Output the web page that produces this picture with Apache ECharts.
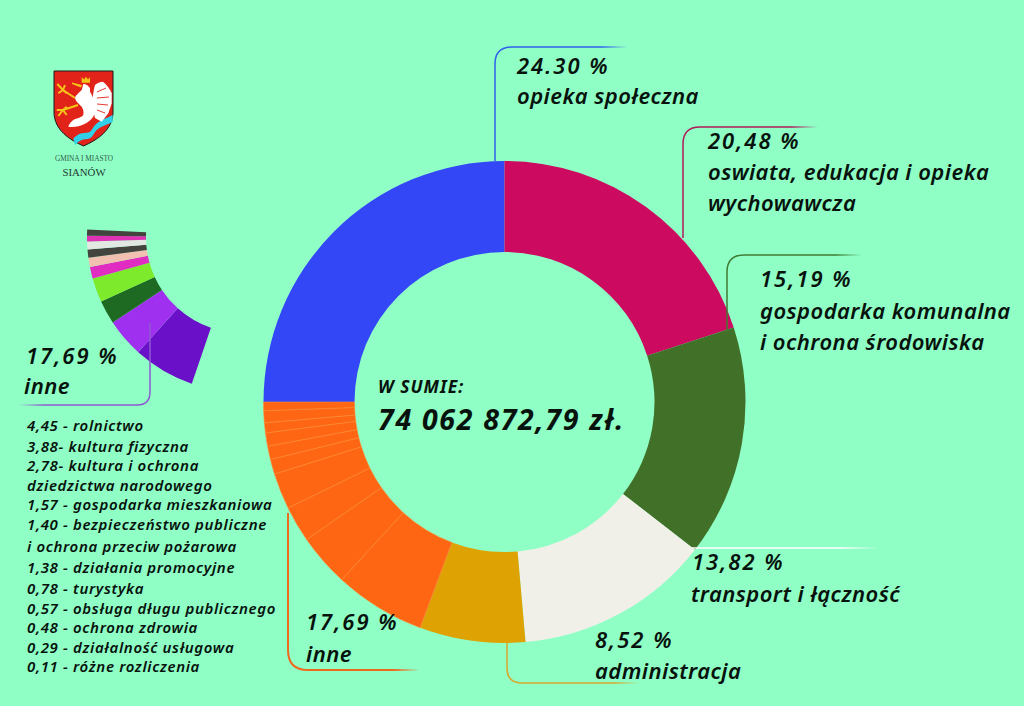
<!DOCTYPE html>
<html><head><meta charset="utf-8">
<style>html,body{margin:0;padding:0;background:#8fffc6}#c{width:1024px;height:706px}</style>
<script src="https://cdn.jsdelivr.net/npm/echarts@6/dist/echarts.min.js"></script>
</head><body><div id="c"></div>
<script>
// the drawing is not exactly to scale with its printed percentages, which are kept as text below.
const ringNames = ['opieka społeczna','oswiata, edukacja i opieka wychowawcza','gospodarka komunalna i ochrona środowiska','transport i łączność','administracja','rolnictwo','kultura fizyczna','kultura i ochrona dziedzictwa narodowego','gospodarka mieszkaniowa','bezpieczeństwo publiczne i ochrona przeciw pożarowa','działania promocyjne','turystyka','obsługa długu publicznego','ochrona zdrowia','działalność usługowa'];
const ringShares = [25.0,20.0,15.5,13.11,7.08,6.11,3.53,2.42,2.42,1.0,0.89,0.89,0.67,0.8,0.58];
const ringColors = ['#3347f7','#cc0a5f','#417128','#f0f0e8','#dfa203','#ff6614','#ff6614','#ff6614','#ff6614','#ff6614','#ff6614','#ff6614','#ff6614','#ff6614','#ff6614'];
const fanShares = [6.42,4.03,2.47,2.53,1.19,0.97,0.86,0.81,0.61,0.64];
const fanColors = ['#6a10c8','#a030f0','#1f6a22','#7eea2c','#e02cc0','#f2c0b0','#44443f','#e2e8e2','#e032b4','#44443f'];

const bigLabels = [
 ['24.30 %',517,65],['opieka społeczna',517,95],
 ['20,48 %',708,140],['oswiata, edukacja i opieka',708,171],['wychowawcza',708,202],
 ['15,19 %',760,278],['gospodarka komunalna',760,310],['i ochrona środowiska',760,341],
 ['13,82 %',692,561],['transport i łączność',691,593],
 ['8,52 %',595,639],['administracja',595,670],
 ['17,69 %',306,621],['inne',306,653],
 ['17,69 %',26,355],['inne',24,385]
];
const listRows = [
 ['4,45 - rolnictwo',425],['3,88- kultura fizyczna',446],['2,78- kultura i ochrona',465],['dziedzictwa narodowego',485],
 ['1,57 - gospodarka mieszkaniowa',504],['1,40 - bezpieczeństwo publiczne',524],['i ochrona przeciw pożarowa',546],
 ['1,38 - działania promocyjne',567],['0,78 - turystyka',588],['0,57 - obsługa długu publicznego',608],
 ['0,48 - ochrona zdrowia',627],['0,29 - działalność usługowa',647],['0,11 - różne rozliczenia',666]
];
const leaders = [
 ['M495,161 L495,64 Q495,47 512,47 L628,47','#2f62e8',495,628,1.5],
 ['M683,238 L683,144 Q683,127 700,127 L818,127','#b01a5c',683,818,1.5],
 ['M727,332 L727,272 Q727,255 744,255 L862,255','#3f7a32',727,862,1.5],
 ['M692,548 L880,548','#ffffff',692,880,1.5],
 ['M507,643 L507,668 Q507,683 522,683 L640,683','#d9a62a',507,640,1.5],
 ['M288,513 L288,650 Q288,670 308,670 L420,670','#ee6a1e',288,420,2],
 ['M150,323 L150,392 Q150,405 137,405 L18,405','#8e58d2',150,18,1.5]
];
const BG = '#8fffc6';
const FONT = '"Noto Sans","Open Sans",sans-serif';
const graphics = [];
let pathId = 0;
function pathType(d){
  const name = 'resketchPath' + (pathId++);
  echarts.graphic.registerShape(name, echarts.graphic.extendPath(d, {}));
  return name;
}
leaders.forEach(l => {
  graphics.push({type:pathType(l[0]),z:10,silent:true,
    style:{fill:'none',lineWidth:l[4],stroke:new echarts.graphic.LinearGradient(l[2],0,l[3],0,[
      {offset:0,color:l[1]},{offset:0.8,color:l[1]},{offset:1,color:BG}],true)}});
});
bigLabels.forEach(t => graphics.push({type:'text',z:11,style:{text:t[0],x:t[1],y:t[2],fill:'#07120c',
  font:'italic 600 22px '+FONT,textVerticalAlign:'middle'}}));
listRows.forEach(t => graphics.push({type:'text',z:11,style:{text:t[0],x:27,y:t[1],fill:'#07120c',
  font:'italic 600 15px '+FONT,textVerticalAlign:'middle'}}));
graphics.push({type:'text',z:11,style:{text:'W SUMIE:',x:378,y:386,fill:'#07120c',font:'italic 700 17.5px '+FONT,textVerticalAlign:'middle'}});
graphics.push({type:'text',z:11,style:{text:'74 062 872,79 zł.',x:378,y:419,fill:'#07120c',font:'italic 700 28.5px '+FONT,textVerticalAlign:'middle'}});
// coat of arms
const emblem = [
 ['M54,71 L113,71 L113,112 C113,130 97,140 83.5,146 C70,140 54,130 54,112 Z','#e2231a','#1a1a1a',1],
 ['M73.3,138.3 C77,135 79,134 81.7,133.3 C85,132.5 88,133 90,131.7 C92,130 93,127 95,125 C100,120 107,118 112.7,115 L112.7,121.7 C107,125 101,126 96.7,130 C94,133 93,136.5 90,138.3 C87,140 84,139 81.7,140 C79,141 77,143 75,145 Z','#2fd0e8',null,0],
 ['M95,85 C97,83 100,82 103,81.7 C107,85 110,89 111.7,93.3 L111.7,103.3 L108.3,113.3 L101.7,121.7 L95,118 C92,108 92,95 95,85 Z','#ffffff',null,0],
 ['M83.3,84 C86,84 89,86 90,88.3 L90,91.7 C92,95 94,99 95,103.3 C96,109 95,113 93.3,116.7 C89,123 79,128 68.3,126.7 C69,124 71,122 73.3,120 C77,118 81,118 83.3,115 C84,111 83,109 81.7,106.7 C79,104 76,102 75,98.3 C75,96 77,95 78.3,93.3 L81.7,90 Z','#ffffff',null,0],
 ['M81.7,82.7 L81.7,77 L84,79.5 L86,76.7 L88,79.5 L90,77 L90,82.7 Z','#f5c518',null,0],
 ['M82,85 L72,82.5 L72,84 L81,87.5 Z','#f5c518',null,0],
 ['M75,98 L63,90 M63,90 L57.3,84 M63,90 L65,85 M63,90 L58.3,93.3 M63,90 L66.7,93.3','#000','#f5c518',2],
 ['M78,105 L63,110 M63,110 L56.7,110 M63,110 L66.7,106.7 M63,110 L58.3,116 M63,110 L66.7,115','#000','#f5c518',2],
 ['M97,92 L106,88 M97,98 L109,97 M97,104 L108,105 M97,110 L105,113','#000','#e2231a',3]
];
emblem.forEach(e => graphics.push({type:pathType(e[0]),z:12,silent:true,
  style:{fill:e[3]>=2?'none':e[1],stroke:e[2]||'none',lineWidth:e[3]===3?0.9:e[3]}}));
graphics.push({type:'text',z:12,style:{text:'GMINA I MIASTO',x:84,y:158,fill:'#2f5a48',font:'7.3px "Liberation Serif",serif',textAlign:'center',textVerticalAlign:'middle'}});
graphics.push({type:'text',z:12,style:{text:'SIANÓW',x:84,y:171.5,fill:'#1f3a30',font:'10.8px "Liberation Serif",serif',textAlign:'center',textVerticalAlign:'middle'}});

const ringData = ringNames.map((n,i)=>({name:n,value:ringShares[i],itemStyle:
  i>=5?{color:ringColors[i],borderColor:'#ff8a30',borderWidth:0.6}:{color:ringColors[i]}}));
const fanData = fanShares.map((v,i)=>({value:v,itemStyle:{color:fanColors[i]}}));
const chart = echarts.init(document.getElementById('c'),null,{renderer:'svg'});
// The reference's typeface is more widely set than the installed fonts.
function tracking(){
  chart.getDom().querySelectorAll('text').forEach(el => {
    const s = el.textContent, fs = parseFloat(getComputedStyle(el).fontSize);
    let sp = 0;
    if (fs > 27) sp = 1.7;
    else if (s === 'W SUMIE:') sp = 1;
    else if (fs > 20) sp = /%$/.test(s) ? 2 : 0.45;
    else if (fs > 14) sp = 0.65;
    el.style.letterSpacing = sp + 'px';
  });
}
chart.on('finished', tracking);
chart.setOption({
  backgroundColor:BG, animation:false,
  series:[
   {type:'pie',center:[504.5,402],radius:[150,241],startAngle:180,clockwise:true,label:{show:false},labelLine:{show:false},silent:true,data:ringData},
   {type:'pie',center:[242,237],radius:[96,155],startAngle:-108.9,endAngle:-182.8,clockwise:true,label:{show:false},labelLine:{show:false},silent:true,data:fanData}
  ],
  graphic:graphics
});
tracking();
</script></body></html>
